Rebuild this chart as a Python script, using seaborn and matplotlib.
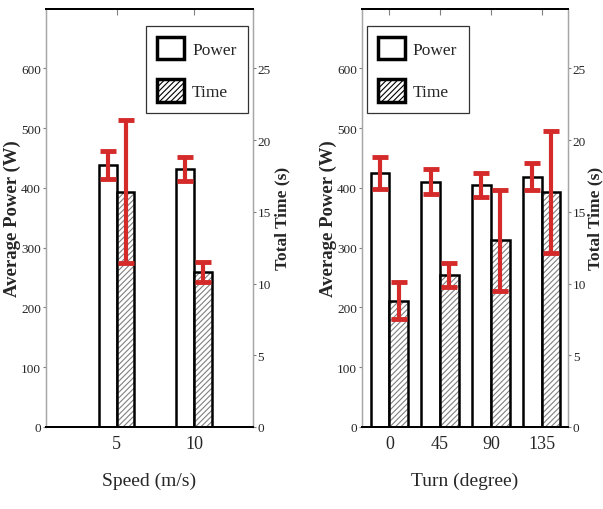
import matplotlib
matplotlib.use('Agg')  # no display in the sandbox
import matplotlib.pyplot as plt
from matplotlib.patches import Patch, Rectangle
import pandas as pd
import seaborn as sns

# Speed panel
speed_labels = ['5', '10']
speed_power = [438, 431]
speed_power_err = [23, 20]
speed_time = [16.4, 10.8]
speed_time_err = [5.0, 0.7]

# Turn panel
turn_labels = ['0', '45', '90', '135']
turn_power = [425, 410, 405, 419]
turn_power_err = [27, 21, 20, 23]
turn_time = [8.8, 10.6, 13.0, 16.4]
turn_time_err = [1.3, 0.85, 3.55, 4.25]

KINDS = ['Power', 'Time']
RED = '#d42a2a'

sns.set_style('ticks')
plt.rcParams['font.family'] = ['Liberation Serif', 'DejaVu Serif']
plt.rcParams['hatch.linewidth'] = 0.8


def style_axis(a):
    for side in ['left', 'right']:
        a.spines[side].set_color('0.65')
        a.spines[side].set_linewidth(0.9)
    for side in ['top', 'bottom']:
        a.spines[side].set_color('black')
        a.spines[side].set_linewidth(1.4)


def draw_panel(ax, labels, power, power_err, time, time_err, width, xlim, xlabel,
               legend_loc, legend_anchor, ylabel_x, ylabel2_x):
    """
    Power bars on the left axis, time bars on a twin axis, each with red error bars.
    """
    df_power = pd.DataFrame({'cat': labels, 'val': power, 'kind': 'Power'})
    df_time = pd.DataFrame({'cat': labels, 'val': time, 'kind': 'Time'})
    pal = {'Power': 'white', 'Time': 'white'}

    sns.barplot(data=df_power, x='cat', y='val', hue='kind', hue_order=KINDS, palette=pal,
                dodge=True, width=width, edgecolor='black', linewidth=1.8, saturation=1,
                errorbar=None, legend=False, ax=ax)
    ax2 = ax.twinx()
    sns.barplot(data=df_time, x='cat', y='val', hue='kind', hue_order=KINDS, palette=pal,
                dodge=True, width=width, edgecolor='black', linewidth=1.8, saturation=1,
                errorbar=None, legend=False, ax=ax2)

    # gray hatching inside the time bars, black outline on top
    for p in list(ax2.patches):
        x0, y0 = p.get_x(), p.get_y()
        w, h = p.get_width(), p.get_height()
        p.set_hatch('//////')
        p.set_edgecolor('0.5')
        p.set_linewidth(0)
        ax2.add_patch(Rectangle((x0, y0), w, h, fill=False, edgecolor='black', linewidth=1.8, zorder=3))

    ax.set_xlim(*xlim)
    ax.set_ylim(0, 700)
    ax2.set_ylim(0, 700 / 24)

    p_centers = [p.get_x() + p.get_width() / 2 for p in ax.patches if p.get_height() > 0]
    t_centers = [p.get_x() + p.get_width() / 2 for p in ax2.patches if p.get_hatch()]
    ax.errorbar(p_centers, power, yerr=power_err, fmt='none', ecolor=RED, elinewidth=3,
                capsize=6, capthick=3.5, zorder=5)
    ax2.errorbar(t_centers, time, yerr=time_err, fmt='none', ecolor=RED, elinewidth=3,
                 capsize=6, capthick=3.5, zorder=5)

    ax.set_yticks(range(0, 700, 100))
    ax2.set_yticks(range(0, 30, 5))
    ax.set_xlabel(xlabel, fontsize=14, labelpad=14)
    ax.set_ylabel('Average Power (W)', fontsize=13.5, fontweight='bold')
    ax2.set_ylabel('Total Time (s)', fontsize=12.5, fontweight='bold', rotation=90)
    ax.yaxis.set_label_coords(ylabel_x, 0.5)
    ax2.yaxis.set_label_coords(ylabel2_x, 0.5)

    ax.tick_params(axis='x', bottom=False, top=True, direction='in', length=4,
                   labelsize=13, pad=6, color='0.5')
    ax.tick_params(axis='y', direction='out', length=2.5, labelsize=9.5, color='0.5', pad=1)
    ax2.tick_params(axis='y', direction='out', length=2.5, labelsize=9.5, color='0.5', pad=1)
    style_axis(ax)
    style_axis(ax2)

    handles = [Patch(facecolor='white', edgecolor='black', linewidth=2.5),
               Patch(facecolor='white', edgecolor='black', linewidth=2.5, hatch='//////')]
    leg = ax2.legend(handles, KINDS, loc=legend_loc, bbox_to_anchor=legend_anchor,
                     fontsize=12.5, frameon=True, fancybox=False, edgecolor='black',
                     handlelength=1.55, handleheight=1.6, labelspacing=1.15,
                     handletextpad=0.45, borderpad=0.65, borderaxespad=0)
    leg.get_frame().set_linewidth(0.9)
    return ax2


fig = plt.figure(figsize=(6.03, 5.10), dpi=100)
ax_left = fig.add_axes([0.076, 0.161, 0.343, 0.820])
ax_right = fig.add_axes([0.6003, 0.161, 0.3416, 0.820])

draw_panel(ax_left, speed_labels, speed_power, speed_power_err, speed_time, speed_time_err,
           width=0.46, xlim=(-0.91, 1.75), xlabel='Speed (m/s)',
           legend_loc='upper right', legend_anchor=(0.976, 0.959),
           ylabel_x=-0.12, ylabel2_x=1.105)
draw_panel(ax_right, turn_labels, turn_power, turn_power_err, turn_time, turn_time_err,
           width=0.74, xlim=(-0.54, 3.52), xlabel='Turn (degree)',
           legend_loc='upper left', legend_anchor=(0.024, 0.959),
           ylabel_x=-0.12, ylabel2_x=1.095)

fig.savefig('out.png', dpi=100)
plt.close(fig)
